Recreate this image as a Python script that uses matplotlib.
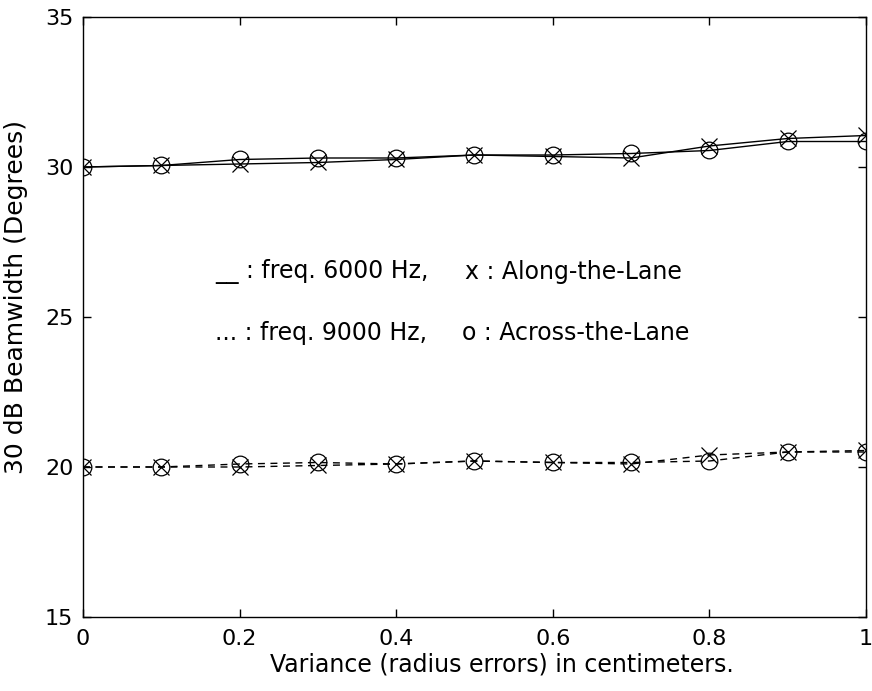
import matplotlib
matplotlib.use("Agg")
import matplotlib.pyplot as plt

variance = [0.0, 0.1, 0.2, 0.3, 0.4, 0.5, 0.6, 0.7, 0.8, 0.9, 1.0]
along_6000 = [30.0, 30.05, 30.1, 30.15, 30.25, 30.4, 30.35, 30.3, 30.7, 30.95, 31.05]
across_6000 = [30.0, 30.05, 30.25, 30.3, 30.3, 30.4, 30.4, 30.45, 30.55, 30.85, 30.85]
along_9000 = [20.0, 20.0, 20.0, 20.05, 20.1, 20.2, 20.15, 20.1, 20.4, 20.5, 20.55]
across_9000 = [20.0, 20.0, 20.1, 20.15, 20.1, 20.2, 20.15, 20.15, 20.2, 20.5, 20.5]

plt.rcParams["font.family"] = ["DejaVu Sans"]
plt.rcParams["font.size"] = 16

fig = plt.figure(figsize=(8.72, 6.91), dpi=100)
ax = fig.add_axes([0.0952, 0.1071, 0.8979, 0.8683])

mk = dict(color="black", lw=1.0, markersize=12, markerfacecolor="none",
          markeredgewidth=0.9)
ax.plot(variance, along_6000, "-", marker="x", **mk)
ax.plot(variance, across_6000, "-", marker="o", **mk)
ax.plot(variance, along_9000, "--", marker="x", dashes=(5, 4), **mk)
ax.plot(variance, across_9000, "--", marker="o", dashes=(5, 4), **mk)

ax.text(0.169, 26.5, "__ : freq. 6000 Hz,", va="center", ha="left", fontsize=17)
ax.text(0.488, 26.5, "x : Along-the-Lane", va="center", ha="left", fontsize=17)
ax.text(0.169, 24.47, "... : freq. 9000 Hz,", va="center", ha="left", fontsize=17)
ax.text(0.484, 24.47, "o : Across-the-Lane", va="center", ha="left", fontsize=17)

ax.set_xlim(0, 1)
ax.set_ylim(15, 35)
ax.set_xticks([0, 0.2, 0.4, 0.6, 0.8, 1])
ax.set_xticklabels(["0", "0.2", "0.4", "0.6", "0.8", "1"])
ax.set_yticks([15, 20, 25, 30, 35])
ax.tick_params(direction="in", length=6, width=1, top=True, right=True)
ax.tick_params(axis="x", pad=9)
ax.tick_params(axis="y", pad=7)
for s in ax.spines.values():
    s.set_linewidth(1.0)

ax.set_xlabel("Variance (radius errors) in centimeters.", fontsize=17)
ax.set_ylabel("30 dB Beamwidth (Degrees)", fontsize=18)
ax.xaxis.label.set_va("center")
ax.yaxis.label.set_va("center")
ax.xaxis.set_label_coords(0.535, -0.08)
ax.yaxis.set_label_coords(-0.085, 0.533)

fig.savefig("out.png", dpi=100)
